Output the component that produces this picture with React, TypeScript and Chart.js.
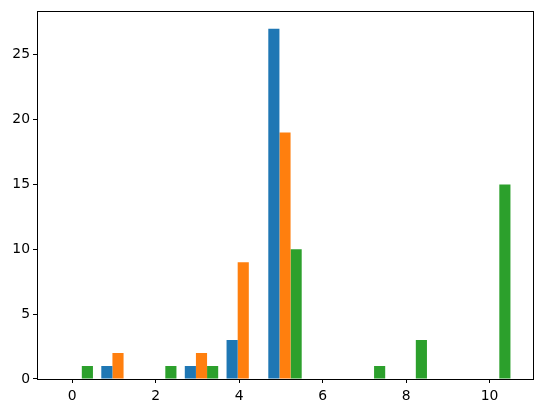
import React, { useEffect, useRef } from "react";
import { Chart, registerables } from "chart.js";

Chart.register(...registerables);

// Histogram bins (width 1, edges -0.4 .. 10.6); centres below
const binCenters = [0.1, 1.1, 2.1, 3.1, 4.1, 5.1, 6.1, 7.1, 8.1, 9.1, 10.1];
const blueCounts = [0, 1, 0, 1, 3, 27, 0, 0, 0, 0, 0];
const orangeCounts = [0, 2, 0, 2, 9, 19, 0, 0, 0, 0, 0];
const greenCounts = [1, 0, 1, 1, 0, 10, 0, 1, 3, 0, 15];
const xTicks = [0, 2, 4, 6, 8, 10];
const yTicks = [0, 5, 10, 15, 20, 25];
const xLimits = [-0.84, 11.04];
const yLimits = [0, 28.35];

const colors = ["#1f77b4", "#ff7f0e", "#2ca02c"];

const frame = {
  id: "frame",
  afterDraw(chart: any) {
    const { ctx, chartArea } = chart;
    ctx.save();
    ctx.strokeStyle = "#000";
    ctx.lineWidth = 1;
    ctx.strokeRect(
      Math.round(chartArea.left) + 0.5,
      Math.round(chartArea.top) + 0.5,
      Math.round(chartArea.right - chartArea.left),
      Math.round(chartArea.bottom - chartArea.top)
    );
    ctx.restore();
  },
};

export default function App() {
  const ref = useRef<HTMLCanvasElement>(null);
  useEffect(() => {
    const mk = (arr: number[]) => binCenters.map((x, i) => ({ x, y: arr[i] }));
    const font = { family: "'DejaVu Sans', sans-serif", size: 13.9 };
    const chart = new Chart(ref.current!, {
      type: "bar",
      data: {
        datasets: [blueCounts, orangeCounts, greenCounts].map((d, i) => ({
          data: mk(d),
          backgroundColor: colors[i],
          borderWidth: 0,
          categoryPercentage: 0.8,
          barPercentage: 1.0,
        })),
      },
      options: {
        animation: false,
        responsive: false,
        maintainAspectRatio: false,
        layout: { padding: { top: 10, right: 10, left: 0, bottom: 0 } },
        plugins: { legend: { display: false }, tooltip: { enabled: false } },
        scales: {
          x: {
            type: "linear",
            min: xLimits[0],
            max: xLimits[1],
            offset: false,
            afterBuildTicks: (s: any) => {
              s.ticks = xTicks.map((v) => ({ value: v }));
            },
            afterFit: (s: any) => {
              s.height = 34;
            },
            grid: {
              drawOnChartArea: false,
              drawTicks: true,
              tickLength: 4,
              color: "#000",
              offset: false,
            },
            border: { display: false },
            ticks: { color: "#000", font, padding: 5, maxRotation: 0 },
          },
          y: {
            type: "linear",
            min: yLimits[0],
            max: yLimits[1],
            afterBuildTicks: (s: any) => {
              s.ticks = yTicks.map((v) => ({ value: v }));
            },
            afterFit: (s: any) => {
              s.width = 37;
            },
            grid: {
              drawOnChartArea: false,
              drawTicks: true,
              tickLength: 4,
              color: "#000",
            },
            border: { display: false },
            ticks: { color: "#000", font, padding: 3 },
          },
        },
      },
      plugins: [frame],
    } as any);
    return () => chart.destroy();
  }, []);
  return (
    <div style={{ position: "fixed", left: 0, top: 0, width: 543, height: 413, background: "#fff" }}>
      <canvas ref={ref} width={543} height={413} style={{ display: "block" }} />
    </div>
  );
}
